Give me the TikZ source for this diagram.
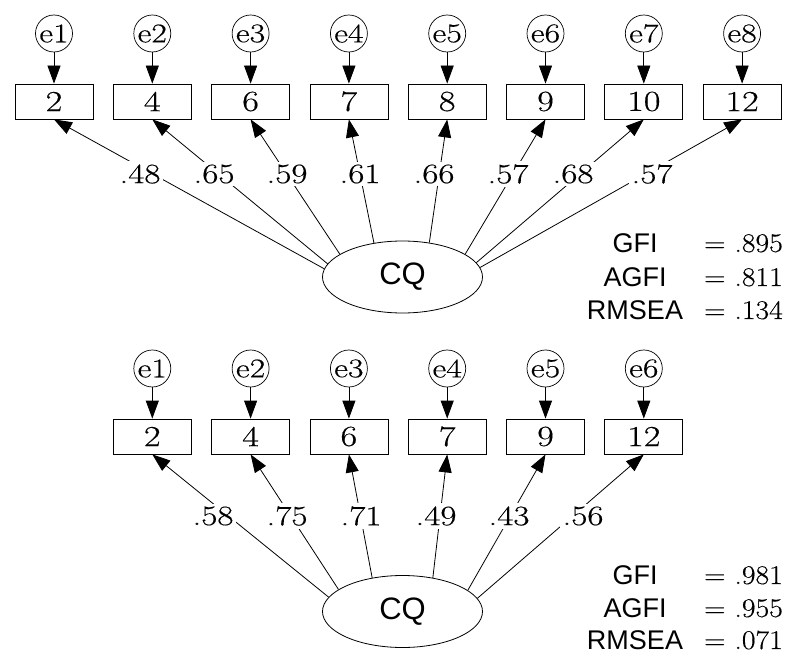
\documentclass[tikz,border=0pt]{standalone}
\usepackage{fontspec}
\setmainfont{Latin Modern Roman}[FakeStretch=1.25, FakeBold=0.4]
\newfontfamily\valf{Latin Modern Roman}[FakeStretch=1.1, FakeBold=0.4]
\newfontfamily\sansf{Liberation Sans}
\usetikzlibrary{arrows.meta,shapes.geometric}
\begin{document}
\begin{tikzpicture}[x=1pt,y=-1pt,
  obs/.style={draw, line width=0.8pt, minimum width=78pt, minimum height=35pt, inner sep=0pt, font=\fontsize{29}{31}\selectfont},
  err/.style={draw, circle, line width=0.7pt, minimum size=37pt, inner sep=0pt, font=\fontsize{27}{29}\selectfont},
  lat/.style={draw, ellipse, line width=0.8pt, minimum width=160pt, minimum height=72pt, inner sep=0pt, font=\sansf\fontsize{31}{33}\selectfont},
  arr/.style={line width=0.8pt, -{Triangle[length=18pt,width=13pt]}},
  lab/.style={fill=white, inner sep=3pt, font=\fontsize{28}{30}\selectfont},
  fitname/.style={font=\sansf\fontsize{27}{29}\selectfont, anchor=base},
  fitval/.style={font=\valf\fontsize{27}{29}\selectfont, anchor=base east, inner sep=1pt}]
\useasboundingbox (0,0) rectangle (787,655);
% ---------- top model ----------
\foreach \i/\x/\t in {1/54/2, 2/152.3/4, 3/250.6/6, 4/348.9/7, 5/447.2/8, 6/545.5/9, 7/643.8/10, 8/742.1/12} {
  \node[err] (te\i) at (\x,33.5) {e\i};
  \node[obs] (tb\i) at (\x,101.5) {\t};
  \draw[arr] (te\i) -- (tb\i);
}
\node[lat] (tcq) at (402.5,277) {CQ};
\foreach \i/\a/\l/\lx in {1/174/.48/140, 2/170.8/.65/214, 3/160.6/.59/287, 4/130.2/.61/360, 5/52.8/.66/434, 6/20.3/.57/508, 7/11.2/.68/573, 8/7.2/.57/652} {
  \draw[arr] (tcq.\a) -- (tb\i.south);
  \node[lab] (tl\i) at (\lx,174) {\l};
}
\node[fitname] (tgfi) at (635,252) {GFI};
\node[fitval] (tgfiv) at (784,252) {= .895};
\node[fitname] (tagfi) at (635,286) {AGFI};
\node[fitval] (tagfiv) at (784,286) {= .811};
\node[fitname] (trm) at (635,319) {RMSEA};
\node[fitval] (trmv) at (784,319) {= .134};
% ---------- bottom model ----------
\foreach \i/\x/\t in {1/152.3/2, 2/250.6/4, 3/348.9/6, 4/447.2/7, 5/545.5/9, 6/643.8/12} {
  \node[err] (be\i) at (\x,368.5) {e\i};
  \node[obs] (bb\i) at (\x,436.5) {\t};
  \draw[arr] (be\i) -- (bb\i);
}
\node[lat] (bcq) at (402.5,611.5) {CQ};
\foreach \i/\a/\l/\lx in {1/169.4/.58/213, 2/161.8/.75/287, 3/132/.71/361, 4/48/.49/436, 5/18.2/.43/509, 6/10.6/.56/583} {
  \draw[arr] (bcq.\a) -- (bb\i.south);
  \node[lab] (bl\i) at (\lx,516) {\l};
}
\node[fitname] (bgfi) at (635,584) {GFI};
\node[fitval] (bgfiv) at (784,584) {= .981};
\node[fitname] (bagfi) at (635,617) {AGFI};
\node[fitval] (bagfiv) at (784,617) {= .955};
\node[fitname] (brm) at (635,649) {RMSEA};
\node[fitval] (brmv) at (784,649) {= .071};
\end{tikzpicture}
\end{document}
